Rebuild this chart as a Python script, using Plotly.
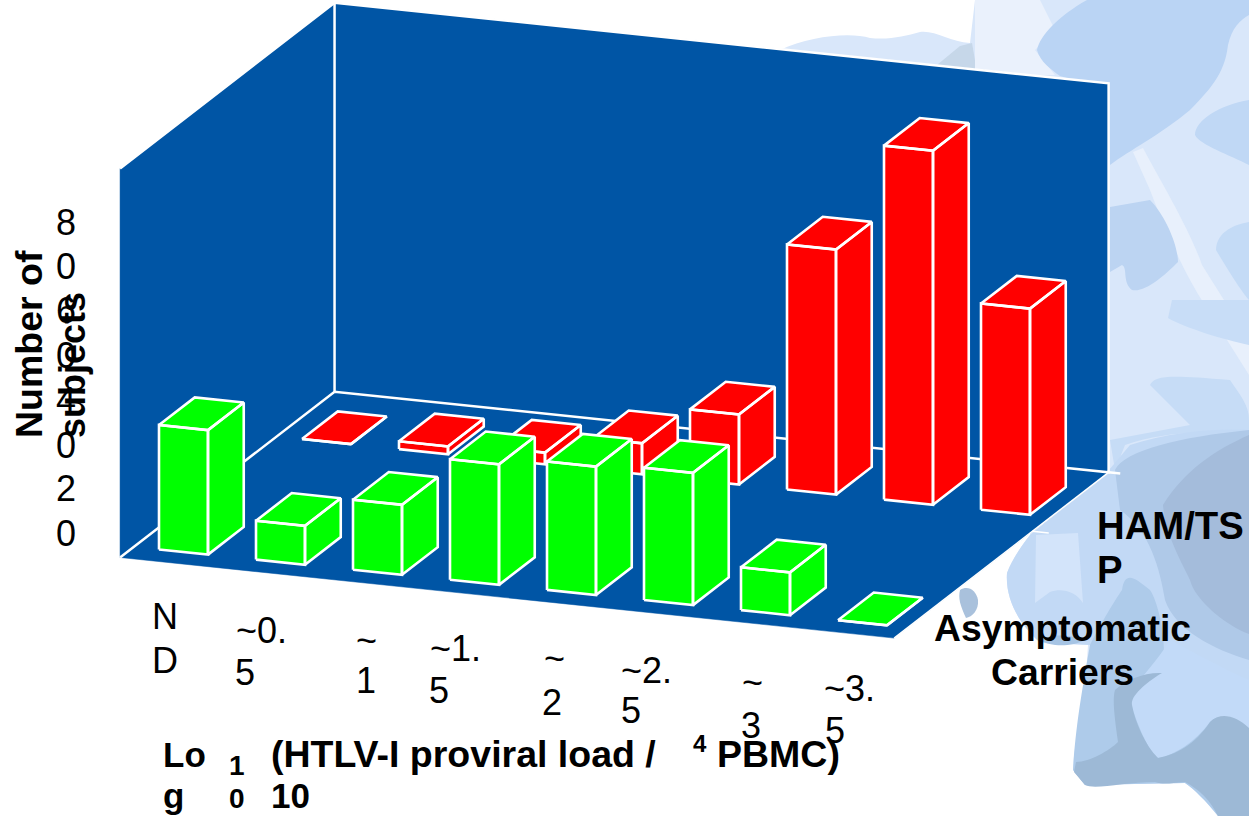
import plotly.graph_objects as go

# Chart data: subjects per proviral-load bin for each clinical group
bins = ["ND", "~0.5", "~1", "~1.5", "~2", "~2.5", "~3", "~3.5"]
groups = ["Asymptomatic Carriers", "HAM/TSP"]
carriers = [32, 10, 18, 31, 33, 34, 11, 0]
ham_tsp = [0, 2, 3, 8, 18, 63, 91, 53]
group_colors = ["#00FF00", "#FF0000"]

# Wrapped axis labels, one entry per rendered line
value_tick_lines = [("8", 222), ("0", 266), ("6", 310), ("0", 355),
                    ("4", 400), ("0", 445), ("2", 488), ("0", 533)]
bin_tick_lines = [
    ("N", 150, 616), ("D", 150, 660),
    ("~0.", 234, 630), ("5", 233, 672),
    ("~", 354, 640), ("1", 354, 680),
    ("~1.", 428, 648), ("5", 427, 690),
    ("~", 542, 658), ("2", 540, 702),
    ("~2.", 619, 670), ("5", 619, 710),
    ("~", 740, 682), ("3", 739, 725),
    ("~3.", 822, 688), ("5", 823, 730),
]

# Oblique axes of the box: screen offset per bin, per group and per subject
ORIGIN = (159.0, 549.5)
BIN_STEP = (97.0, 10.1)
GROUP_STEP = (143.0, -110.5)
VALUE_UNIT = 3.89
BIN_LIMITS = (-0.26, 7.72)
GROUP_LIMITS = (-0.096, 1.404)
VALUE_MAX = 100
BAR_WIDTH = 0.505
BAR_DEPTH = 0.25

WALL_BLUE = "#0055A5"
EDGE = "white"
FONT = "Liberation Sans"


def project(b, g, v=0.0):
    return (ORIGIN[0] + b * BIN_STEP[0] + g * GROUP_STEP[0],
            ORIGIN[1] + b * BIN_STEP[1] + g * GROUP_STEP[1] - v * VALUE_UNIT)


def polygons(faces):
    xs, ys = [], []
    for face in faces:
        pts = [project(*p) for p in face]
        pts.append(pts[0])
        xs += [p[0] for p in pts] + [None]
        ys += [p[1] for p in pts] + [None]
    return xs[:-1], ys[:-1]


def filled(faces, color, edge_width=0):
    xs, ys = polygons(faces)
    return go.Scatter(x=xs, y=ys, mode="lines", fill="toself", fillcolor=color,
                      line=dict(color=EDGE if edge_width else color, width=edge_width or 0.5),
                      showlegend=False, hoverinfo="skip")


def stroke(points, width=2.5):
    pts = [project(*p) for p in points]
    return go.Scatter(x=[p[0] for p in pts], y=[p[1] for p in pts], mode="lines",
                      line=dict(color=EDGE, width=width), showlegend=False, hoverinfo="skip")


def bar(b, g, v, color):
    b0, b1 = b, b + BAR_WIDTH
    g0, g1 = g, g + BAR_DEPTH
    faces = [
        [(b0, g0, 0), (b1, g0, 0), (b1, g0, v), (b0, g0, v)],
        [(b1, g0, 0), (b1, g1, 0), (b1, g1, v), (b1, g0, v)],
        [(b0, g0, v), (b1, g0, v), (b1, g1, v), (b0, g1, v)],
    ]
    return filled(faces, color, edge_width=2.6)


bmin, bmax = BIN_LIMITS
gmin, gmax = GROUP_LIMITS

fig = go.Figure()

# Box: floor and two walls, then the white frame lines
fig.add_trace(filled([[(bmin, gmin, 0), (bmax, gmin, 0), (bmax, gmax, 0), (bmin, gmax, 0)],
                      [(bmin, gmin, 0), (bmin, gmax, 0), (bmin, gmax, VALUE_MAX), (bmin, gmin, VALUE_MAX)],
                      [(bmin, gmax, 0), (bmax, gmax, 0), (bmax, gmax, VALUE_MAX), (bmin, gmax, VALUE_MAX)]],
                     WALL_BLUE))
fig.add_trace(stroke([(bmin, gmin, VALUE_MAX), (bmin, gmax, VALUE_MAX), (bmax, gmax, VALUE_MAX),
                      (bmax, gmax, 0), (bmin, gmax, 0), (bmin, gmin, 0)]))
fig.add_trace(stroke([(bmin, gmax, VALUE_MAX), (bmin, gmax, 0)]))
fig.add_trace(stroke([(bmax, gmin, 0), (bmax, gmax, 0)], width=1.5))
fig.add_trace(stroke([(bmax, gmax, 0), (bmax + 0.12, gmax, 0)]))
fig.add_trace(stroke([(bmax, 0.87, 0), (bmax + 0.17, 0.87, 0)], width=1.5))

# Back row first so the front row paints over it
for j, series in reversed(list(enumerate([carriers, ham_tsp]))):
    for i, value in enumerate(series):
        fig.add_trace(bar(i, j, value, group_colors[j]))

annotations = []


def label(text, x, y, size=36, bold=False, anchor="left", angle=0, yanchor="middle"):
    body = f"<b>{text}</b>" if bold else text
    annotations.append(dict(x=x, y=y, xref="x", yref="y", text=body, showarrow=False,
                            xanchor=anchor, yanchor=yanchor, textangle=angle,
                            font=dict(family=FONT, size=size, color="black")))


for text, y in value_tick_lines:
    label(text, 66, y, anchor="center")
for text, x, y in bin_tick_lines:
    label(text, x, y)

label("Number of", 29, 440, size=37.5, bold=True, anchor="center", angle=-90, yanchor="bottom")
label("subjects", 72, 440, size=36, bold=True, anchor="center", angle=-90, yanchor="bottom")

label("Lo", 161, 754, size=35, bold=True)
label("g", 161, 795, size=35, bold=True)
label("1", 237, 765, size=28, bold=True, anchor="center")
label("0", 237, 798, size=28, bold=True, anchor="center")
label("(HTLV-I proviral load /", 269, 754, size=37.5, bold=True)
label("10", 269, 795, size=35, bold=True)
label("4", 700, 743, size=24, bold=True, anchor="center")
label("PBMC)", 715, 754, size=37.5, bold=True)

label("HAM/TS", 1095, 525, size=38.3, bold=True)
label("P", 1095, 569, size=38.3, bold=True)
label("Asymptomatic", 1062, 628, size=37.3, bold=True, anchor="center")
label("Carriers", 1062, 672, size=37.3, bold=True, anchor="center")

# Pale mottled backdrop on the right-hand side of the slide
backdrop = [
    ("#D9E7FA", "M780,50 C810,36 850,32 870,38 C890,40 905,36 920,32 C935,30 950,42 970,43 L975,0 L1249,0 "
                "L1249,816 L1218,816 C1205,800 1195,790 1185,783 L1085,785 L1073,770 "
                "C1075,735 1085,700 1088,645 L1040,643 C1020,625 1005,600 1007,573 "
                "C1012,560 1020,548 1030,535 L1030,100 L780,100 Z"),
    ("#C6D7E9", "M937,65 L960,46 L972,43 L977,72 Z"),
    ("#EAF1FC", "M975,0 L1040,0 L1055,30 L1035,50 L1055,75 L975,75 Z"),
    ("#BAD4F4", "M1087,0 C1060,15 1040,35 1037,50 C1040,62 1052,70 1060,76 L1108,90 L1110,165 "
                "C1130,150 1160,135 1190,110 C1215,85 1225,70 1228,45 C1232,28 1240,20 1249,15 L1249,0 Z"),
    ("#E8F0FC", "M1133,152 L1143,148 C1160,180 1190,230 1202,265 L1249,340 L1249,375 L1205,305 "
                "C1185,275 1165,230 1150,190 Z"),
    ("#C0D8F5", "M1249,100 C1220,105 1195,120 1195,135 C1200,145 1230,155 1249,165 Z"),
    ("#BCD4F2", "M1110,207 L1150,200 C1165,215 1178,245 1178,262 C1165,275 1145,293 1132,290 "
                "C1122,282 1128,268 1122,265 L1110,272 Z"),
    ("#C4DBF6", "M1249,222 C1230,225 1216,235 1216,250 C1225,265 1240,290 1249,300 Z"),
    ("#C8DDF7", "M1172,300 L1168,318 C1185,328 1225,340 1249,345 L1249,300 Z"),
    ("#C6DCF6", "M1150,385 C1155,375 1170,375 1230,380 C1240,395 1249,405 1249,420 L1249,440 "
                "C1215,430 1170,430 1125,445 L1115,470 L1110,440 L1190,425 Z"),
    ("#C2D9F5", "M1109,470 L1130,445 C1170,432 1215,428 1249,430 L1249,700 L1170,700 L1090,645 L1040,642 "
                "C1020,625 1005,600 1007,573 C1012,560 1020,548 1030,535 Z"),
    ("#D3E4FA", "M1036,535 L1078,533 L1083,603 C1075,590 1060,588 1050,592 L1035,603 Z"),
    ("#AFC9E8", "M1115,470 C1125,450 1180,437 1249,430 L1249,660 C1215,650 1175,630 1165,600 "
                "C1160,570 1150,530 1120,510 Z"),
    ("#A4BCDB", "M1163,505 C1185,470 1215,450 1249,435 L1249,634 C1225,625 1195,600 1190,580 "
                "C1175,550 1165,530 1163,505 Z"),
    ("#A9C1DC", "M960,590 C968,585 976,590 978,600 C979,610 972,617 966,618 C960,605 958,598 960,590 Z"),
    ("#A6C4E4", "M1040,640 C1050,647 1072,647 1085,640 C1070,634 1050,634 1040,640 Z"),
    ("#AECBEA", "M1073,770 C1075,735 1080,700 1090,645 C1100,625 1115,600 1122,590 C1125,570 1135,578 1150,590 "
                "C1160,605 1168,650 1162,672 L1217,717 L1249,728 L1249,816 L1218,816 "
                "C1205,800 1195,790 1185,783 L1085,785 Z"),
    ("#C2DAF8", "M1130,700 C1135,680 1150,672 1170,640 C1190,650 1225,670 1249,680 L1249,730 "
                "C1235,715 1220,712 1210,722 C1195,742 1175,755 1158,758 C1150,755 1135,720 1130,700 Z"),
    ("#9DB9D6", "M1074,772 L1076,762 C1090,762 1110,750 1118,742 C1115,720 1112,700 1115,690 "
                "C1125,680 1145,672 1162,673 C1150,680 1130,695 1132,705 C1135,722 1145,745 1158,758 "
                "C1175,755 1195,745 1210,722 C1220,712 1235,715 1249,728 L1249,816 L1218,816 "
                "C1210,800 1200,790 1185,782 C1170,783 1165,785 1155,782 C1125,782 1095,790 1085,785 Z"),
]
shapes = [dict(type="path", path=p, xref="x", yref="y", fillcolor=c,
               line=dict(width=0), layer="below") for c, p in backdrop]

fig.update_layout(
    width=1249, height=816, margin=dict(l=0, r=0, t=0, b=0),
    paper_bgcolor="white", plot_bgcolor="white", showlegend=False,
    xaxis=dict(range=[0, 1249], visible=False, fixedrange=True),
    yaxis=dict(range=[816, 0], visible=False, fixedrange=True),
    annotations=annotations, shapes=shapes,
)
fig.write_html("out.html", config=dict(displayModeBar=False))
